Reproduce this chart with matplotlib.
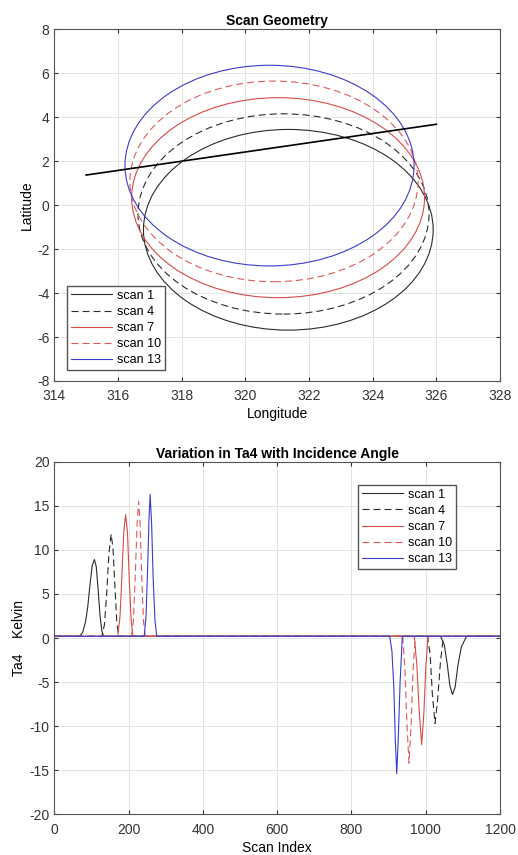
import matplotlib
matplotlib.use('Agg')
from matplotlib import pyplot as plt
from matplotlib.patches import Ellipse
from matplotlib.lines import Line2D

# scan footprints (ellipses): centre lon/lat, width/height in degrees
scan_names = ['scan 1', 'scan 4', 'scan 7', 'scan 10', 'scan 13']
scan_lon_c = [321.35, 321.2, 321.03, 320.9, 320.76]
scan_lat_c = [-1.12, -0.40, 0.34, 1.08, 1.80]
scan_width = [9.1, 9.14, 9.2, 9.05, 9.08]
scan_height = [9.13, 9.11, 9.1, 9.13, 9.13]

# ground track line
track_lon = [315.0, 326.0]
track_lat = [1.37, 3.68]

# Ta4 vs scan index
s1_x = [0, 68, 76, 84, 90, 96, 102, 108, 113, 118, 123, 128, 133,
        1040, 1050, 1058, 1065, 1072, 1079, 1087, 1096, 1110, 1200]
s1_y = [0.2, 0.2, 0.6, 1.8, 3.5, 6.0, 8.2, 8.9, 8.1, 5.5, 2.6, 0.8, 0.2,
        0.2, -0.8, -3.0, -5.4, -6.4, -5.6, -3.0, -1.0, 0.2, 0.2]

s4_x = [0, 128, 135, 141, 147, 153, 158, 163, 168, 173,
        1005, 1012, 1018, 1025, 1032, 1040, 1048, 1200]
s4_y = [0.2, 0.2, 1.5, 5.0, 9.5, 11.8, 10.2, 6.0, 2.0, 0.2,
        0.2, -2.0, -6.5, -9.7, -7.0, -2.5, 0.2, 0.2]

s7_x = [0, 171, 177, 182, 187, 192, 197, 202, 207, 212,
        969, 976, 982, 989, 995, 1000, 1006, 1200]
s7_y = [0.2, 0.2, 2.5, 7.0, 12.0, 14.0, 12.0, 6.5, 2.0, 0.2,
        0.2, -3.0, -8.0, -12.1, -8.5, -3.5, 0.2, 0.2]

s10_x = [0, 208, 213, 218, 223, 227, 231, 235, 240, 245,
         938, 944, 949, 955, 961, 966, 972, 1200]
s10_y = [0.2, 0.2, 2.0, 7.0, 13.0, 15.5, 13.0, 7.5, 2.0, 0.2,
         0.2, -3.5, -9.5, -14.2, -9.5, -3.5, 0.2, 0.2]

s13_x = [0, 242, 247, 251, 255, 258, 262, 266, 271, 276,
         903, 909, 914, 918, 922, 926, 931, 937, 1200]
s13_y = [0.2, 0.2, 2.5, 7.5, 13.5, 16.3, 13.0, 7.0, 2.0, 0.2,
         0.2, -1.5, -5.5, -11.5, -15.4, -11.5, -5.0, 0.2, 0.2]

ta_x = [s1_x, s4_x, s7_x, s10_x, s13_x]
ta_y = [s1_y, s4_y, s7_y, s10_y, s13_y]

colors = ['#2b2b2b', '#2b2b2b', '#d84a4a', '#dd5a5a', '#3b3bcc']
dash = (0, (6.3, 3.6))
styles = ['-', dash, '-', dash, '-']

plt.rcParams['font.family'] = ['Liberation Sans', 'DejaVu Sans']
plt.rcParams['font.size'] = 10
plt.rcParams['axes.unicode_minus'] = False

fig = plt.figure(figsize=(5.18, 8.55), dpi=100)
ax1 = fig.add_axes([0.1048, 0.5544, 0.8605, 0.4113])
ax2 = fig.add_axes([0.1048, 0.0476, 0.8605, 0.4124])

leg_kw = dict(fontsize=9, fancybox=False, edgecolor='#555555', framealpha=1,
              handlelength=3.3, borderpad=0.3, labelspacing=0.33, handletextpad=0.4,
              borderaxespad=0)

# top plot
handles = []
for i in range(len(scan_names)):
    e = Ellipse((scan_lon_c[i], scan_lat_c[i]), scan_width[i], scan_height[i],
                fill=False, edgecolor=colors[i], linestyle=styles[i], lw=0.8)
    ax1.add_patch(e)
    handles.append(Line2D([], [], color=colors[i], ls=styles[i], lw=0.8))
ax1.plot(track_lon, track_lat, color='black', lw=1.2)
ax1.set_xlim(314, 328)
ax1.set_ylim(-8, 8)
ax1.set_xticks(range(314, 329, 2))
ax1.set_yticks(range(-8, 9, 2))
ax1.set_title('Scan Geometry', fontweight='bold', fontsize=10, pad=3)
ax1.set_xlabel('Longitude', labelpad=3)
ax1.set_ylabel('Latitude', labelpad=2)
ax1.legend(handles, scan_names, loc='lower left', bbox_to_anchor=(0.028, 0.031), **leg_kw)

# bottom plot
for i in range(len(scan_names)):
    ax2.plot(ta_x[i], ta_y[i], color=colors[i], ls=styles[i], lw=0.8, label=scan_names[i])
ax2.set_xlim(0, 1200)
ax2.set_ylim(-20, 20)
ax2.set_xticks(range(0, 1201, 200))
ax2.set_yticks(range(-20, 21, 5))
ax2.set_title('Variation in Ta4 with Incidence Angle', fontweight='bold', fontsize=10, pad=3)
ax2.set_xlabel('Scan Index', labelpad=3)
ax2.set_ylabel('Ta4    Kelvin', labelpad=2)
ax2.legend(loc='upper left', bbox_to_anchor=(0.681, 0.934), **leg_kw)

for ax in (ax1, ax2):
    ax.grid(True, color='#e3e3e3', lw=0.7)
    ax.set_axisbelow(True)
    ax.tick_params(direction='in', top=True, right=True, length=3,
                   color='#333333', labelcolor='#333333', labelsize=10)
    ax.tick_params(axis='x', pad=6)
    for sp in ax.spines.values():
        sp.set_color('#555555')
        sp.set_linewidth(0.8)

fig.savefig('out.png', dpi=100)
